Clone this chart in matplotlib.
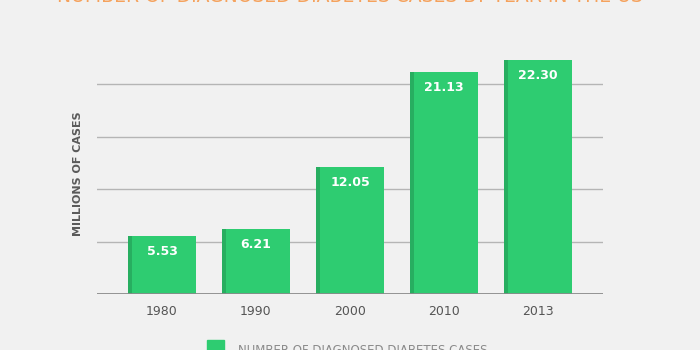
import matplotlib.pyplot as plt
import numpy as np

# Daten
years = ['1980', '1990', '2000', '2010', '2013']
cases = [5.53, 6.21, 12.05, 21.13, 22.30]
ticks = [5, 10, 15, 20]

bg = '#f1f1f1'
green = '#2ecc71'
dark_green = '#27ae60'

plt.rcParams['font.family'] = ['DejaVu Sans']

fig = plt.figure(figsize=(7, 3.5), dpi=100, facecolor=bg)
ax = fig.add_axes([97/700, 1 - 294/350, 506/700, 262.5/350])
ax.set_facecolor(bg)

x = np.arange(len(years))
w = 0.723
stripe = 0.045

# Gitterlinien
for t in ticks:
    ax.axhline(t, color='#b5b5b5', linewidth=1, zorder=1)
ax.axhline(0, color='#8a8a8a', linewidth=2, zorder=3)

# Balken mit dunklem Streifen links
ax.bar(x, cases, width=w, color=green, zorder=2)
ax.bar(x - w/2 + stripe/2, cases, width=stripe, color=dark_green, zorder=2)

for xi, v in zip(x, cases):
    ax.text(xi, v - 1.45, '%.2f' % v, color='white', fontsize=9, fontweight='bold',
            ha='center', va='center', zorder=4)

ax.set_xlim(-0.691, 4.691)
ax.set_ylim(0, 25)
ax.set_xticks(x)
ax.set_xticklabels(years, fontsize=9, color='#555555')
ax.tick_params(axis='x', length=0, pad=8)
ax.set_yticks([])
for s in ax.spines.values():
    s.set_visible(False)

# Achsenbeschriftung
fig.text(78/700, 1 - 174/350, 'MILLIONS OF CASES', rotation=90, fontsize=8, fontweight='bold',
         color='#5a5a5a', ha='center', va='center')

# Titel (oben abgeschnitten wie im Original)
fig.text(0.5, 1 + 3/350, 'NUMBER OF DIAGNOSED DIABETES CASES BY YEAR IN THE US', fontsize=13.5,
         color='#f5a25d', ha='center', va='center')

# Legende (unten abgeschnitten)
fig.patches.append(plt.Rectangle((207/700, 0), 17/700, 10/350, transform=fig.transFigure,
                                 color=green, figure=fig))
fig.text(238/700, 1 - 350/350, 'NUMBER OF DIAGNOSED DIABETES CASES', fontsize=8.5,
         color='#8a8a8a', ha='left', va='center')

plt.savefig('out.png', dpi=100, facecolor=bg)
